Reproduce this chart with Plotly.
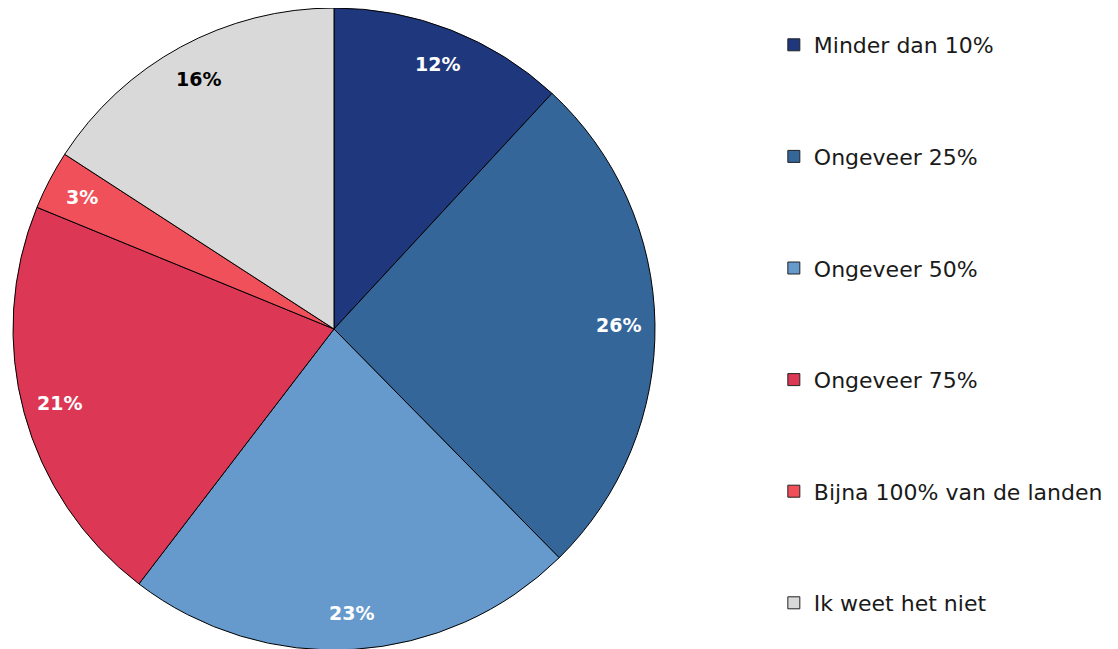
import math
import plotly.graph_objects as go

categories = ["Minder dan 10%", "Ongeveer 25%", "Ongeveer 50%", "Ongeveer 75%",
              "Bijna 100% van de landen", "Ik weet het niet"]
values = [12, 26, 23, 21, 3, 16]
colors = ["#1F387D", "#346699", "#6699CC", "#DC3754", "#F0505A", "#D9D9D9"]
text_colors = ["white", "white", "white", "white", "white", "black"]

FONT = "DejaVu Sans"
W, H = 1118, 649
R_PX = 321            # pie radius in px
CX_PX, CY_PX = 326, 321  # pie centre in figure px
LABEL_R = 0.885

fig = go.Figure()
fig.add_trace(go.Pie(
    labels=categories,
    values=values,
    textinfo="none",
    marker=dict(colors=colors, line=dict(color="black", width=1)),
    sort=False,
    direction="clockwise",
    rotation=0,
    showlegend=False,
    domain=dict(x=[(CX_PX - R_PX) / W, (CX_PX + R_PX) / W], y=[1 - (CY_PX + R_PX) / H, 1]),
    hoverinfo="label+percent",
))

# slice labels placed at each slice's mid-angle, near the outer edge
total = sum(values)
cum = 0
for v, tc in zip(values, text_colors):
    mid = (cum + v / 2) / total * 2 * math.pi
    cum += v
    px = CX_PX + LABEL_R * R_PX * math.sin(mid)
    py = CY_PX - LABEL_R * R_PX * math.cos(mid)
    fig.add_annotation(
        x=px / W, y=1 - py / H, xref="paper", yref="paper",
        text=f"<b>{v}%</b>", showarrow=False,
        font=dict(family=FONT, size=19, color=tc),
        xanchor="center", yanchor="middle",
    )

# legend entries (one group per category so the vertical gap can be set)
for i, (cat, col) in enumerate(zip(categories, colors)):
    fig.add_trace(go.Scatter(
        x=[None], y=[None], mode="markers", name=cat,
        legendgroup=f"g{i}",
        marker=dict(symbol="square", size=12, color=col,
                    line=dict(color="#222222", width=1)),
        showlegend=True, hoverinfo="skip",
    ))

fig.update_layout(
    width=W, height=H,
    margin=dict(l=0, r=0, t=0, b=0),
    paper_bgcolor="white", plot_bgcolor="white",
    xaxis=dict(visible=False), yaxis=dict(visible=False),
    showlegend=True,
    legend=dict(
        x=0.685, xanchor="left", y=1 - 16 / H, yanchor="top",
        font=dict(family=FONT, size=22, color="#1a1a1a"),
        tracegroupgap=80, itemwidth=30,
        bgcolor="rgba(0,0,0,0)",
    ),
)

fig.write_html("out.html")
